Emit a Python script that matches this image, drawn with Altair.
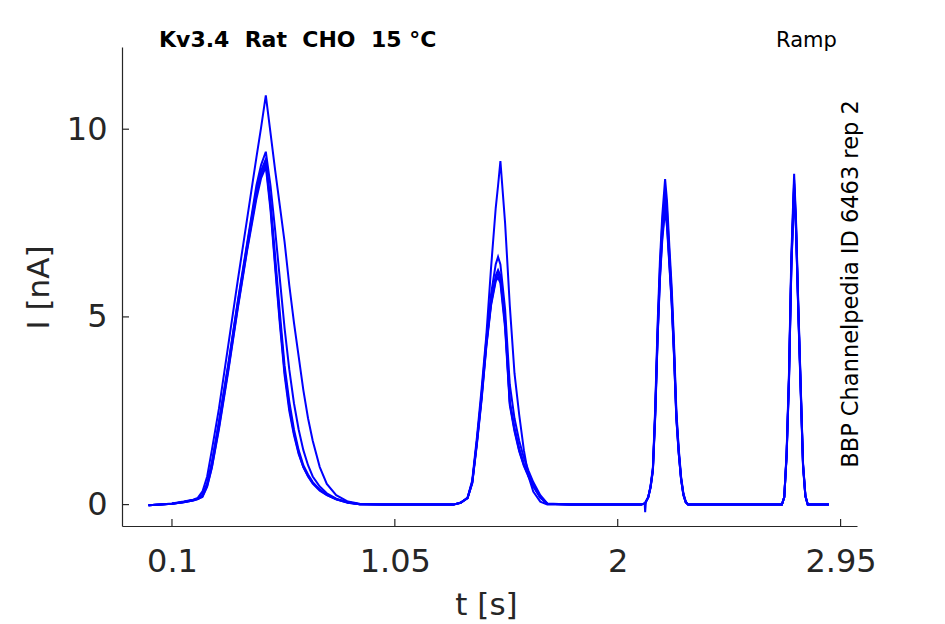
import altair as alt
import pandas as pd

# ---- data ----
# time points (s), split by ramp segment
t_r1 = [0.00, 0.05, 0.10, 0.15, 0.19, 0.21, 0.23, 0.25, 0.27, 0.30, 0.34, 0.38,
        0.42, 0.46, 0.48, 0.50, 0.52, 0.54, 0.56, 0.58, 0.60, 0.62, 0.64, 0.66,
        0.68, 0.70, 0.73, 0.76, 0.80, 0.85, 0.90, 1.00, 1.10, 1.20, 1.30]
t_r2 = [1.33, 1.36, 1.38, 1.40, 1.42, 1.44, 1.46, 1.48, 1.49, 1.50, 1.52, 1.54,
        1.56, 1.58, 1.60, 1.62, 1.64, 1.67, 1.70, 1.80, 1.90, 2.00, 2.10]
t_r3 = [2.115, 2.117, 2.12, 2.13, 2.14, 2.15, 2.16, 2.17, 2.18, 2.19, 2.202, 2.21,
        2.22, 2.23, 2.24, 2.25, 2.26, 2.27, 2.28, 2.29, 2.30, 2.40, 2.50, 2.60, 2.70]
t_r4 = [2.71, 2.72, 2.73, 2.74, 2.752, 2.76, 2.77, 2.78, 2.79, 2.80, 2.81, 2.85, 2.90]

# current (nA) per trace, per segment
tr1_r1 = [-0.02, 0.0, 0.03, 0.08, 0.13, 0.18, 0.35, 0.75, 1.45, 2.55, 4.25, 5.95,
          7.6, 9.25, 10.05, 10.9, 9.9, 8.9, 7.95, 7.0, 5.85, 4.85, 3.95, 3.05,
          2.3, 1.7, 1.0, 0.55, 0.25, 0.08, 0.02, 0.0, 0.0, 0.0, 0.0]
tr2_r1 = [-0.02, 0.0, 0.02, 0.07, 0.12, 0.16, 0.26, 0.56, 1.12, 2.2, 3.75, 5.4,
          6.95, 8.5, 9.05, 9.4, 8.5, 7.3, 6.0, 4.7, 3.6, 2.7, 2.0, 1.45,
          1.05, 0.75, 0.48, 0.3, 0.16, 0.06, 0.01, 0.0, 0.0, 0.0, 0.0]
tr3_r1 = [-0.02, 0.0, 0.02, 0.07, 0.12, 0.16, 0.25, 0.55, 1.1, 2.17, 3.7, 5.35,
          6.9, 8.38, 8.9, 9.2, 8.1, 6.6, 5.1, 3.7, 2.75, 2.0, 1.45, 1.05,
          0.8, 0.6, 0.4, 0.27, 0.15, 0.06, 0.01, 0.0, 0.0, 0.0, 0.0]
tr4_r1 = [-0.02, 0.0, 0.02, 0.06, 0.11, 0.15, 0.22, 0.5, 1.0, 2.05, 3.6, 5.25,
          6.8, 8.25, 8.8, 9.1, 7.95, 6.4, 4.9, 3.55, 2.6, 1.9, 1.38, 1.0,
          0.75, 0.56, 0.37, 0.25, 0.14, 0.05, 0.01, 0.0, 0.0, 0.0, 0.0]
tr5_r1 = [-0.02, 0.0, 0.02, 0.06, 0.11, 0.15, 0.2, 0.48, 0.98, 2.0, 3.55, 5.2,
          6.75, 8.15, 8.7, 9.0, 7.85, 6.3, 4.8, 3.45, 2.5, 1.85, 1.35, 1.0,
          0.76, 0.58, 0.39, 0.26, 0.14, 0.05, 0.01, 0.0, 0.0, 0.0, 0.0]

tr1_r2 = [0.05, 0.18, 0.65, 1.8, 3.1, 4.5, 6.3, 7.9, 8.5, 9.15, 7.5, 5.3,
          3.5, 2.4, 1.45, 0.75, 0.35, 0.08, 0.0, 0.0, 0.0, 0.0, 0.0]
tr2_r2 = [0.05, 0.18, 0.6, 1.7, 2.95, 4.4, 5.6, 6.4, 6.6, 6.4, 5.2, 3.2,
          2.3, 1.7, 1.25, 0.9, 0.6, 0.25, 0.03, 0.0, 0.0, 0.0, 0.0]
tr3_r2 = [0.05, 0.18, 0.6, 1.7, 2.9, 4.3, 5.4, 6.1, 6.25, 6.1, 4.9, 2.75,
          2.05, 1.5, 1.1, 0.8, 0.52, 0.2, 0.02, 0.0, 0.0, 0.0, 0.0]
tr4_r2 = [0.05, 0.17, 0.58, 1.65, 2.85, 4.25, 5.35, 6.0, 6.15, 6.0, 4.8, 2.7,
          2.0, 1.45, 1.05, 0.76, 0.5, 0.19, 0.02, 0.0, 0.0, 0.0, 0.0]
tr5_r2 = [0.05, 0.17, 0.57, 1.62, 2.8, 4.2, 5.3, 5.95, 6.05, 5.9, 4.7, 2.65,
          1.95, 1.42, 1.03, 0.74, 0.48, 0.18, 0.02, 0.0, 0.0, 0.0, 0.0]

tr1_r3 = [0.03, 0.04, 0.08, 0.2, 0.5, 1.0, 2.6, 4.8, 6.5, 7.7, 8.67, 8.1,
          6.9, 5.8, 4.3, 2.5, 1.5, 0.75, 0.3, 0.08, 0.0, 0.0, 0.0, 0.0, 0.0]
tr2_r3 = [0.03, 0.04, 0.08, 0.2, 0.48, 0.95, 2.5, 4.6, 6.3, 7.5, 8.35, 7.85,
          6.7, 5.6, 4.15, 2.4, 1.45, 0.72, 0.28, 0.07, 0.0, 0.0, 0.0, 0.0, 0.0]
tr3_r3 = [0.03, -0.2, 0.06, 0.19, 0.47, 0.93, 2.45, 4.5, 6.15, 7.3, 8.1, 7.65,
          6.55, 5.5, 4.05, 2.35, 1.4, 0.7, 0.27, 0.07, 0.0, 0.0, 0.0, 0.0, 0.0]
tr4_r3 = [0.03, 0.04, 0.08, 0.19, 0.46, 0.92, 2.4, 4.45, 6.05, 7.15, 7.95, 7.5,
          6.45, 5.4, 4.0, 2.3, 1.38, 0.68, 0.26, 0.06, 0.0, 0.0, 0.0, 0.0, 0.0]
tr5_r3 = [0.03, 0.04, 0.08, 0.19, 0.45, 0.9, 2.35, 4.4, 6.0, 7.05, 7.85, 7.4,
          6.4, 5.35, 3.95, 2.28, 1.36, 0.67, 0.25, 0.06, 0.0, 0.0, 0.0, 0.0, 0.0]

tr1_r4 = [0.2, 1.4, 3.5, 6.6, 8.81, 7.6, 5.3, 3.2, 1.1, 0.25, 0.0, 0.0, 0.0]
tr2_r4 = [0.2, 1.35, 3.4, 6.45, 8.65, 7.5, 5.2, 3.15, 1.08, 0.24, 0.0, 0.0, 0.0]
tr3_r4 = [0.2, 1.32, 3.35, 6.35, 8.55, 7.4, 5.15, 3.1, 1.05, 0.23, 0.0, 0.0, 0.0]
tr4_r4 = [0.2, 1.3, 3.3, 6.3, 8.45, 7.35, 5.1, 3.05, 1.03, 0.22, 0.0, 0.0, 0.0]
tr5_r4 = [0.2, 1.28, 3.25, 6.25, 8.4, 7.3, 5.05, 3.0, 1.0, 0.22, 0.0, 0.0, 0.0]

x_ticks = [0.1, 1.05, 2, 2.95]
y_ticks = [0, 5, 10]

title_text = "Kv3.4\u00a0 Rat\u00a0 CHO\u00a0 15 °C"
corner_text = "Ramp"
side_text = "BBP Channelpedia ID 6463 rep 2"

# ---- build table ----
time_all = t_r1 + t_r2 + t_r3 + t_r4
traces = {
    "rep1": tr1_r1 + tr1_r2 + tr1_r3 + tr1_r4,
    "rep2": tr2_r1 + tr2_r2 + tr2_r3 + tr2_r4,
    "rep3": tr3_r1 + tr3_r2 + tr3_r3 + tr3_r4,
    "rep4": tr4_r1 + tr4_r2 + tr4_r3 + tr4_r4,
    "rep5": tr5_r1 + tr5_r2 + tr5_r3 + tr5_r4,
}
rows = []
for name, vals in traces.items():
    for i, (tt, vv) in enumerate(zip(time_all, vals)):
        rows.append({"trace": name, "order": i, "t": tt, "I": vv})
df = pd.DataFrame(rows)

W, H = 735, 479
AX = "#262626"
FONT = "DejaVu Sans"

xscale = alt.Scale(domain=[-0.113, 3.02], nice=False, zero=False)
yscale = alt.Scale(domain=[-0.57, 12.19], nice=False, zero=False)

xaxis = alt.Axis(values=x_ticks, format=".3~g", title="t [s]",
                 ticks=False, tickSize=0, grid=False,
                 labelPadding=20, labelFontSize=32, labelFont=FONT,
                 labelColor=AX, domainColor=AX, domainWidth=1.2,
                 titleFontSize=31, titleFont=FONT, titleFontWeight="normal",
                 titleColor=AX, titleX=364, titleY=79,
                 titleBaseline="middle", titleAlign="center")
yaxis = alt.Axis(values=y_ticks, format="d", title="I [nA]",
                 ticks=False, tickSize=0, grid=False,
                 labelPadding=15, labelFontSize=32, labelFont=FONT,
                 labelColor=AX, domainColor=AX, domainWidth=1.2,
                 titleFontSize=31, titleFont=FONT, titleFontWeight="normal",
                 titleColor=AX, titleX=-83, titleY=240, titleAngle=270,
                 titleBaseline="middle", titleAlign="center")

lines = alt.Chart(df).mark_line(color="#0000FF", strokeWidth=2, clip=True).encode(
    x=alt.X("t:Q", scale=xscale, axis=xaxis),
    y=alt.Y("I:Q", scale=yscale, axis=yaxis),
    detail="trace:N",
    order="order:Q",
)

xt_df = pd.DataFrame({"t": x_ticks})
yt_df = pd.DataFrame({"I": y_ticks})

xticks = alt.Chart(xt_df).mark_rule(color=AX, strokeWidth=1.2).encode(
    x=alt.X("t:Q", scale=xscale, axis=xaxis),
    y=alt.value(H), y2=alt.value(H - 7),
)
yticks = alt.Chart(yt_df).mark_rule(color=AX, strokeWidth=1.2).encode(
    y=alt.Y("I:Q", scale=yscale, axis=yaxis),
    x=alt.value(0), x2=alt.value(7),
)

title_mark = alt.Chart(pd.DataFrame({"s": [title_text]})).mark_text(
    font=FONT, fontSize=22, fontWeight="bold", color="#000000",
    align="left", baseline="alphabetic").encode(
    text="s:N", x=alt.value(37), y=alt.value(0))

corner_mark = alt.Chart(pd.DataFrame({"s": [corner_text]})).mark_text(
    font=FONT, fontSize=21, color="#000000",
    align="left", baseline="alphabetic").encode(
    text="s:N", x=alt.value(654), y=alt.value(0))

side_mark = alt.Chart(pd.DataFrame({"s": [side_text]})).mark_text(
    font=FONT, fontSize=22.5, color="#000000", angle=270,
    align="center", baseline="middle").encode(
    text="s:N", x=alt.value(729), y=alt.value(237))

chart = alt.layer(lines, xticks, yticks, title_mark, corner_mark, side_mark).properties(
    width=W, height=H,
    autosize=alt.AutoSizeParams(type="none"),
    padding={"left": 114, "top": 39, "right": 70, "bottom": 98},
    background="white",
).configure_view(stroke=None)

chart.save("out.html", embed_options={"renderer": "svg", "actions": False})
